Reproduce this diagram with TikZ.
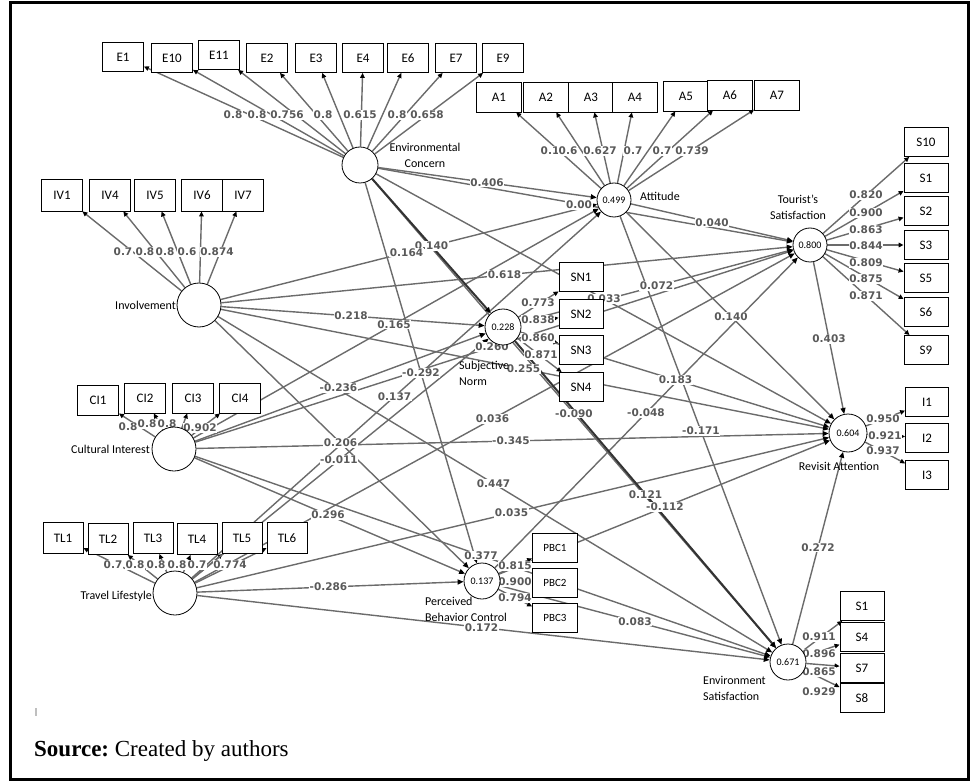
\documentclass[tikz,border=0pt]{standalone}
\usepackage{fontspec}
\setmainfont{Liberation Serif}
\newfontfamily\calfont{Carlito}
\newfontfamily\lblfont{DejaVu Sans}
\usetikzlibrary{arrows.meta,calc}
\pgfdeclarelayer{bg}
\pgfdeclarelayer{lab}
\pgfsetlayers{bg,lab,main}
\tikzset{
 lv/.style={circle,draw=black,line width=0.8pt,fill=white,inner sep=0pt,font=\calfont\fontsize{10}{10}\selectfont},
 ind/.style={rectangle,draw=black,line width=0.8pt,fill=white,minimum width=42pt,minimum height=29pt,inner sep=0pt,font=\calfont\fontsize{13}{13}\selectfont},
 lvname/.style={font=\calfont\fontsize{12}{16}\selectfont,inner sep=0pt},
 pth/.style={draw=black!58,line width=1.4pt,-{Triangle[length=6pt,width=5pt,color=black]}},
 pthdark/.style={draw=black!80,line width=2pt,-{Triangle[length=6pt,width=5pt,color=black]}},
 ldg/.style={draw=black!58,line width=1.4pt,-{Triangle[length=5pt,width=4.5pt,color=black]}},
 cf/.style={fill=white,inner sep=0.6pt,text=black!65,font=\lblfont\bfseries\fontsize{10.5}{10.5}\selectfont},
}
\begin{document}
\begin{tikzpicture}[x=1pt,y=-1pt]
\useasboundingbox (0,0) rectangle (973,783);
% frame
\draw[line width=3pt] (10.5,2.5) rectangle (968.5,779.5);
\fill[black!25] (35,708) rectangle (37,716);
% latent variables
\node[lv,minimum size=36pt] (EC) at (360,165) {};
\node[lv,minimum size=34pt] (Att) at (614,200) {0.499};
\node[lv,minimum size=44pt] (Inv) at (199,305) {};
\node[lv,minimum size=34pt] (TS) at (810,245) {0.800};
\node[lv,minimum size=36pt] (SN) at (503,327) {0.228};
\node[lv,minimum size=44pt] (CI) at (174,449) {};
\node[lv,minimum size=38pt] (RA) at (848,433) {0.604};
\node[lv,minimum size=44pt] (TL) at (175,593) {};
\node[lv,minimum size=36pt] (PBC) at (482,581) {0.137};
\node[lv,minimum size=36pt] (ES) at (788,662) {0.671};
% latent names
\node[lvname,align=center] (nEC) at (425,155) {Environmental\\Concern};
\node[lvname,anchor=west] (nAtt) at (640,196) {Attitude};
\node[lvname,anchor=east] (nInv) at (176,305) {Involvement};
\node[lvname,align=center] (nTS) at (798,207) {Tourist’s\\Satisfaction};
\node[lvname,align=left,anchor=north west] (nSN) at (459,361) {Subjective\\Norm};
\node[lvname,anchor=east] (nCI) at (150,449) {Cultural Interest};
\node[lvname,anchor=east] (nTL) at (152,596) {Travel Lifestyle};
\node[lvname,align=left,anchor=north west] (nPBC) at (425,597) {Perceived\\Behavior Control};
\node[lvname] (nRA) at (839,466) {Revisit Attention};
\node[lvname,align=left,anchor=north west] (nES) at (703,676) {Environment\\Satisfaction};
% indicators
\foreach \n/\x/\y in {E1/123/57,E10/172/58,E11/219/55,E2/267/58,E3/316/58,E4/363/58,E6/408/58,E7/456/58,E9/503/58}
  \node[ind,minimum width=41pt] (\n) at (\x,\y) {\n};
\foreach \n/\x/\y in {A1/499/97,A2/546/97,A3/591/97,A4/635/97,A5/686/96,A6/730/95,A7/777/95}
  \node[ind,minimum width=45pt,minimum height=30pt] (\n) at (\x,\y) {\n};
\foreach \n/\x/\y in {IV1/62/195,IV4/110/195,IV5/155/195,IV6/202/195,IV7/243/195}
  \node[ind,minimum width=41pt,minimum height=32pt] (\n) at (\x,\y) {\n};
\foreach \n/\t/\y in {tS10/S10/142,tS1/S1/178,tS2/S2/211,tS3/S3/245,tS5/S5/278,tS6/S6/312,tS9/S9/350}
  \node[ind,minimum width=44pt] (\n) at (926,\y) {\t};
\foreach \n/\y in {SN1/277,SN2/314,SN3/350,SN4/387}
  \node[ind,minimum width=44pt] (\n) at (581,\y) {\n};
\foreach \n/\y in {I1/402,I2/438,I3/475}
  \node[ind,minimum width=43pt] (\n) at (927,\y) {\n};
\foreach \n/\t/\y in {eS1/S1/606,eS4/S4/637,eS7/S7/668,eS8/S8/698}
  \node[ind,minimum width=44pt] (\n) at (862,\y) {\t};
\foreach \n/\x/\y in {CI1/98/400,CI2/145/398,CI3/193/398,CI4/240/398}
  \node[ind,minimum width=41pt,minimum height=30pt] (\n) at (\x,\y) {\n};
\foreach \n/\x/\y in {TL1/63/538,TL2/108/539,TL3/153/538,TL4/197/539,TL5/242/538,TL6/287/538}
  \node[ind,minimum width=40pt,minimum height=31pt] (\n) at (\x,\y) {\n};
\foreach \n/\y in {PBC1/548,PBC2/583,PBC3/618}
  \node[ind,minimum width=45pt,font=\calfont\fontsize{11}{11}\selectfont] (\n) at (555,\y) {\n};
% connectors
\begin{pgfonlayer}{bg}
\foreach \t in {E1,E10,E11,E2,E3,E4,E6,E7,E9} \draw[ldg] (EC) -- (\t);
\foreach \t in {A1,A2,A3,A4,A5,A6,A7} \draw[ldg] (Att) -- (\t);
\foreach \t in {IV1,IV4,IV5,IV6,IV7} \draw[ldg] (Inv) -- (\t);
\foreach \t in {tS10,tS1,tS2,tS3,tS5,tS6,tS9} \draw[ldg] (TS) -- (\t);
\foreach \t in {SN1,SN2,SN3,SN4} \draw[ldg] (SN) -- (\t);
\foreach \t in {I1,I2,I3} \draw[ldg] (RA) -- (\t);
\foreach \t in {eS1,eS4,eS7,eS8} \draw[ldg] (ES) -- (\t);
\foreach \t in {CI1,CI2,CI3,CI4} \draw[ldg] (CI) -- (\t);
\foreach \t in {TL1,TL2,TL3,TL4,TL5,TL6} \draw[ldg] (TL) -- (\t);
\foreach \t in {PBC1,PBC2,PBC3} \draw[ldg] (PBC) -- (\t);
\foreach \a/\b in {EC/Att,EC/TS,EC/PBC,EC/RA,EC/ES,Inv/Att,Inv/SN,Inv/TS,Inv/PBC,Inv/RA,Inv/ES,
  CI/Att,CI/SN,CI/TS,CI/PBC,CI/RA,CI/ES,TL/Att,TL/SN,TL/TS,TL/PBC,TL/RA,TL/ES,
  Att/TS,Att/RA,Att/ES,SN/TS,SN/RA,PBC/TS,PBC/RA,PBC/ES,TS/RA,ES/RA}
  \draw[pth] (\a) -- (\b);
\draw[pthdark] (EC) -- (SN);
\draw[pthdark] (SN) -- (ES);
\end{pgfonlayer}
% path coefficients
\begin{pgfonlayer}{lab}
\foreach \a/\b/\v in {EC/Att/0.406,EC/SN/0.140,EC/PBC/-0.292,EC/RA/0.033,EC/ES/-0.090,
  Inv/Att/0.164,Inv/SN/0.218,Inv/TS/0.618,Inv/PBC/0.206,Inv/RA/0.255,Inv/ES/0.447,
  CI/Att/0.165,CI/SN/-0.236,CI/TS/0.260,CI/PBC/0.296,CI/RA/-0.345,CI/ES/0.377,
  TL/Att/0.137,TL/SN/-0.011,TL/TS/0.036,TL/PBC/-0.286,TL/RA/0.035,TL/ES/0.172,
  Att/TS/0.040,Att/RA/0.140,Att/ES/-0.171,SN/TS/0.072,SN/RA/0.183,SN/ES/0.121,
  PBC/TS/-0.048,PBC/RA/-0.112,PBC/ES/0.083,TS/RA/0.403,ES/RA/0.272}
  \node[cf] at ($(\a)!0.5!(\b)$) {\v};
\node[cf] at (579,205) {0.00};
% loadings
\foreach \x/\v in {233/0.8,257/0.8,287/0.756,323/0.8,360/0.615,397/0.8,427/0.658}
  \node[cf] at (\x,115) {\v};
\foreach \x/\v in {550/0.1,568/0.6,600/0.627,633/0.7,662/0.7,692/0.739}
  \node[cf] at (\x,151) {\v};
\foreach \x/\v in {123/0.7,145/0.8,165/0.8,187/0.6,217/0.874}
  \node[cf] at (\x,252) {\v};
\foreach \x/\y/\v in {128/427/0.8,147/424/0.8,167/424/0.8,200/428/0.902}
  \node[cf] at (\x,\y) {\v};
\foreach \x/\v in {113/0.7,135/0.8,156/0.8,177/0.8,197/0.7,230/0.774}
  \node[cf] at (\x,565) {\v};
\foreach \y/\v in {195/0.820,213/0.900,230/0.863,246/0.844,263/0.809,279/0.875,296/0.871}
  \node[cf] at (866,\y) {\v};
\foreach \x/\y/\v in {538/303/0.773,538/320/0.838,538/338/0.860,541/355/0.871}
  \node[cf] at (\x,\y) {\v};
\foreach \x/\y/\v in {883/419/0.950,885/436/0.921,883/451/0.937}
  \node[cf] at (\x,\y) {\v};
\foreach \y/\v in {637/0.911,654/0.896,672/0.865,692/0.929}
  \node[cf] at (819,\y) {\v};
\foreach \y/\v in {566/0.815,582/0.900,598/0.794}
  \node[cf] at (515,\y) {\v};
\end{pgfonlayer}
% source
\node[anchor=base west,inner sep=0pt,font=\fontsize{23}{23}\selectfont] (src) at (34,756) {\textbf{Source:}~Created by authors};
\end{tikzpicture}
\end{document}
